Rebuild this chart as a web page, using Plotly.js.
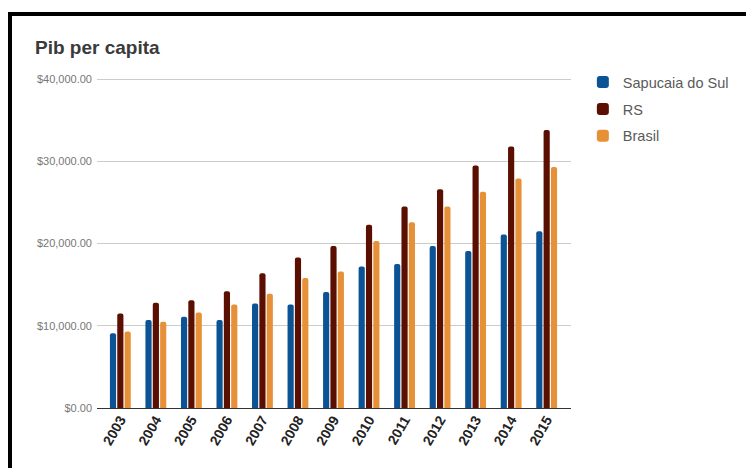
<!DOCTYPE html>
<html>
<head>
<meta charset="utf-8">
<script src="https://cdn.plot.ly/plotly-3.0.1.min.js"></script>
<style>
  html, body { margin: 0; padding: 0; background: #fff; }
  #wrap { position: relative; width: 746px; height: 468px; overflow: hidden; }
  #chart { position: absolute; left: 0; top: 0; width: 746px; height: 468px; }
  #frame { position: absolute; left: 8px; top: 12px; width: 760px; height: 480px;
           border-top: 4px solid #000; border-left: 4px solid #000; pointer-events: none; }
</style>
</head>
<body>
<div id="wrap">
  <div id="chart"></div>
  <div id="frame"></div>
</div>
<script>
const years = ["2003","2004","2005","2006","2007","2008","2009","2010","2011","2012","2013","2014","2015"];
const sapucaia = [9100, 10700, 11100, 10700, 12700, 12600, 14100, 17200, 17500, 19700, 19100, 21100, 21500];
const rs       = [11500, 12800, 13100, 14200, 16400, 18300, 19700, 22300, 24500, 26600, 29500, 31800, 33800];
const brasil   = [9300, 10500, 11600, 12600, 13900, 15800, 16600, 20300, 22600, 24500, 26300, 27900, 29300];
const yTicks = [0, 10000, 20000, 30000, 40000];

const seriesNames = ["Sapucaia do Sul", "RS", "Brasil"];
const seriesColors = ["#0b5394", "#5b0f00", "#e69138"];
const seriesData = [sapucaia, rs, brasil];

const traces = seriesData.map((vals, i) => ({
  type: 'bar',
  name: seriesNames[i],
  x: years,
  y: vals,
  legendgroup: 'g' + i,
  marker: { color: seriesColors[i], cornerradius: 2, line: { width: 0 } },
  hoverinfo: 'x+y+name'
}));

const layout = {
  width: 746,
  height: 468,
  margin: { l: 97, r: 172, t: 75, b: 60, pad: 0 },
  paper_bgcolor: '#ffffff',
  plot_bgcolor: '#ffffff',
  barmode: 'group',
  bargap: 0.38,
  bargroupgap: 0.16,
  font: { family: 'Liberation Sans, Arial, sans-serif', color: '#444' },
  title: {
    text: 'Pib per capita',
    x: 35 / 746,
    xanchor: 'left',
    xref: 'container',
    y: 1 - 47 / 468,
    yanchor: 'middle',
    yref: 'container',
    font: { family: 'Liberation Sans, Arial, sans-serif', size: 19, weight: 'bold', color: '#3a3a3a' }
  },
  xaxis: {
    type: 'category',
    range: [-0.657, 12.685],
    showgrid: false,
    showline: false,
    zeroline: false,
    ticks: '',
    tickangle: -60,
    tickfont: { family: 'Liberation Sans, Arial, sans-serif', size: 14, weight: 'bold', color: '#222' },
    fixedrange: true
  },
  yaxis: {
    range: [0, 40500],
    tickvals: yTicks,
    tickformat: '$,.2f',
    showgrid: true,
    gridcolor: '#cccccc',
    gridwidth: 1,
    zeroline: true,
    zerolinecolor: '#333333',
    zerolinewidth: 1,
    showline: false,
    ticks: '',
    ticklabelstandoff: 4,
    tickfont: { family: 'Liberation Sans, Arial, sans-serif', size: 11, color: '#777' },
    fixedrange: true
  },
  showlegend: true,
  legend: {
    x: 1.025,
    xanchor: 'left',
    y: 1.0266,
    yanchor: 'top',
    tracegroupgap: 5,
    font: { family: 'Liberation Sans, Arial, sans-serif', size: 14.5, color: '#5a5a5a' },
    bgcolor: 'rgba(0,0,0,0)'
  }
};

Plotly.newPlot('chart', traces, layout, { displayModeBar: false, staticPlot: true });
</script>
</body>
</html>
